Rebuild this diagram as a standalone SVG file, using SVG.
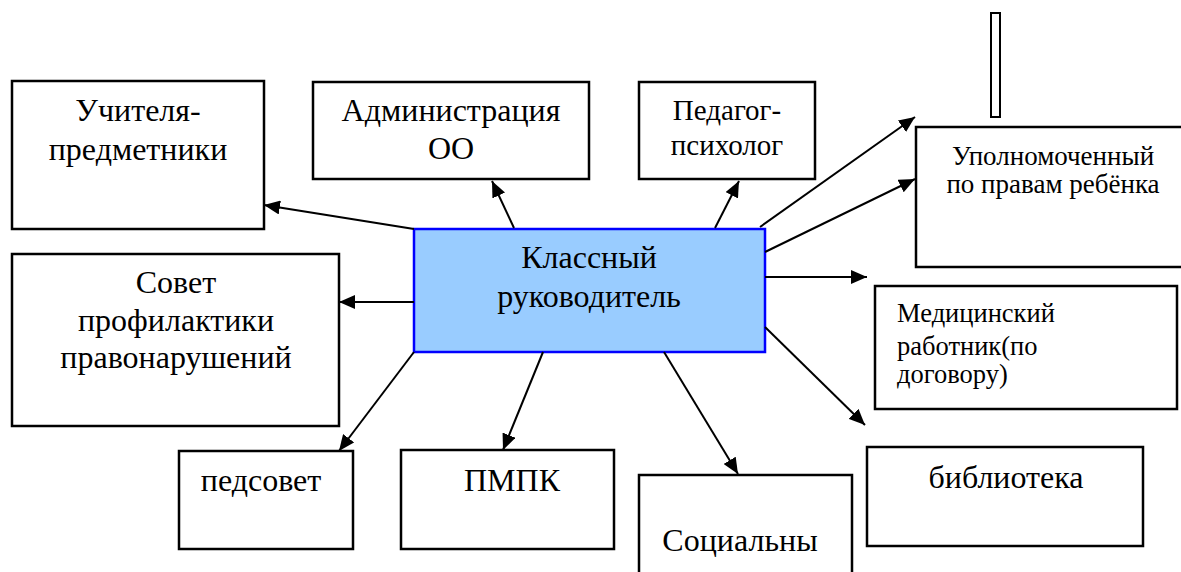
<svg xmlns="http://www.w3.org/2000/svg" width="1181" height="572" viewBox="0 0 1181 572" font-family="'Liberation Serif', 'Times New Roman', serif">
<defs>
<marker id="ah" viewBox="0 0 10 10" refX="10" refY="5" markerWidth="8" markerHeight="7" markerUnits="strokeWidth" orient="auto" preserveAspectRatio="none">
<path d="M0,0 L10,5 L0,10 z" fill="#000"/>
</marker>
<style>
.box{fill:#fff;stroke:#000;stroke-width:2.5}
.main{fill:#99ccff;stroke:#0000ff;stroke-width:2.5}
text{font-family:'Liberation Serif','Times New Roman',serif;fill:#000}
.t{font-size:32px;text-anchor:middle}
.p{font-size:29px;text-anchor:middle}
.u{font-size:27px;text-anchor:middle}
.s{font-size:26.5px}
.c line{stroke:#000;stroke-width:2;marker-end:url(#ah)}
</style>
</defs>
<rect width="1181" height="572" fill="#fff"/>
<g id="n-uchitelya"><rect class="box" x="12" y="81" width="252" height="148"/><text class="t" x="138" y="121">Учителя-</text><text class="t" x="138" y="160">предметники</text></g>
<g id="n-admin"><rect class="box" x="313" y="82" width="276" height="97"/><text class="t" x="451" y="121">Администрация</text><text class="t" x="451" y="159">ОО</text></g>
<g id="n-psy"><rect class="box" x="639" y="82" width="176" height="97"/><text class="p" x="727" y="120">Педагог-</text><text class="p" x="727" y="155">психолог</text></g>
<g id="n-bar"><rect class="box" x="991" y="13" width="9" height="104" style="stroke-width:2"/></g>
<g id="n-upol"><rect class="box" x="916" y="127" width="275" height="140"/><text class="u" x="1053" y="165">Уполномоченный</text><text class="u" x="1053" y="193">по правам ребёнка</text></g>
<g id="n-center"><rect class="main" x="414" y="229" width="351" height="123"/><text class="t" x="589" y="268">Классный</text><text class="t" x="589" y="307">руководитель</text></g>
<g id="n-sovet"><rect class="box" x="12" y="254" width="327" height="172"/><text class="t" x="176" y="293">Совет</text><text class="t" x="176" y="331">профилактики</text><text class="t" x="176" y="368">правонарушений</text></g>
<g id="n-med"><rect class="box" x="875" y="286" width="302" height="123"/><text class="s" x="897" y="322">Медицинский</text><text class="s" x="897" y="355">работник(по</text><text class="s" x="897" y="383">договору)</text></g>
<g id="n-pedsovet"><rect class="box" x="179" y="451" width="174" height="98"/><text class="t" x="261" y="491">педсовет</text></g>
<g id="n-pmpk"><rect class="box" x="401" y="450" width="213" height="99"/><text class="t" x="512" y="491">ПМПК</text></g>
<g id="n-soc"><rect class="box" x="639" y="475" width="213" height="110"/><text class="t" x="740" y="551">Социальны</text></g>
<g id="n-bib"><rect class="box" x="867" y="447" width="276" height="99"/><text class="t" x="1006" y="488">библиотека</text></g>
<g id="connectors" class="c">
<line x1="414" y1="229" x2="264" y2="205"/>
<line x1="514" y1="228" x2="492" y2="181"/>
<line x1="715" y1="228" x2="739" y2="181"/>
<line x1="760" y1="227" x2="915" y2="117"/>
<line x1="765" y1="252" x2="915" y2="179"/>
<line x1="765" y1="277" x2="867" y2="277"/>
<line x1="765" y1="327" x2="865" y2="425"/>
<line x1="414" y1="302" x2="339" y2="302"/>
<line x1="414" y1="352" x2="339" y2="451"/>
<line x1="543" y1="352" x2="503" y2="450"/>
<line x1="664" y1="352" x2="738" y2="474"/>
</g>
</svg>
